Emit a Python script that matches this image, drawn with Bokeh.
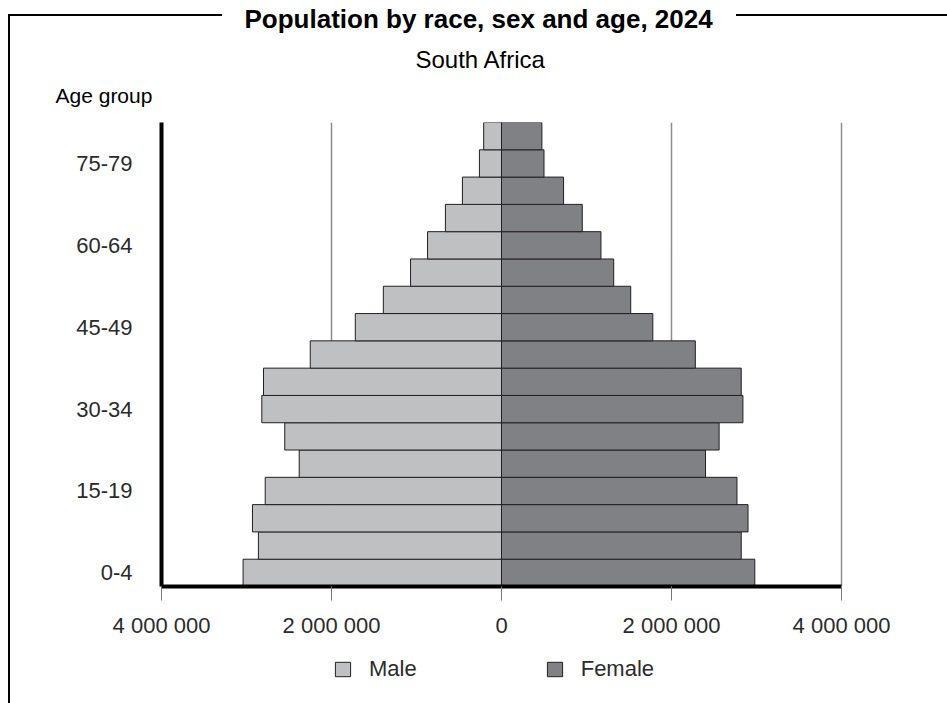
from bokeh.plotting import figure
from bokeh.layouts import column
from bokeh.models import (ColumnDataSource, FixedTicker, CustomJSTickFormatter, Title,
                          Legend, LegendItem, Range1d)
from bokeh.embed import file_html
from bokeh.resources import INLINE

# ---- data ----
ages = ["0-4", "5-9", "10-14", "15-19", "20-24", "25-29", "30-34", "35-39", "40-44",
        "45-49", "50-54", "55-59", "60-64", "65-69", "70-74", "75-79", "80+"]
male = [3040000, 2860000, 2930000, 2780000, 2380000, 2550000, 2820000, 2800000, 2250000,
        1720000, 1390000, 1070000, 870000, 660000, 460000, 260000, 210000]
female = [2980000, 2820000, 2900000, 2770000, 2400000, 2560000, 2840000, 2820000, 2280000,
          1780000, 1520000, 1320000, 1170000, 950000, 730000, 500000, 475000]
x_ticks = [-4000000, -2000000, 0, 2000000, 4000000]
series = ["Male", "Female"]
title_text = "Population by race, sex and age, 2024"
subtitle_text = "South Africa"
y_title_text = "Age group"

# ---- styles ----
FONT = "Liberation Sans"
TXT = "#2b2b2b"
COLORS = ["#bfc0c2", "#808184"]
EDGE = "#231f20"

W = 947
H1, H2 = 653, 50
X_LO, X_HI = x_ticks[0], x_ticks[-1]
X_PAD = 35000  # a few pixels so the outer grid line stays inside the frame

p = figure(width=W, height=H1, output_backend="svg", toolbar_location=None,
           x_range=Range1d(X_LO, X_HI + X_PAD), y_range=Range1d(-0.5, len(ages) - 0.5),
           min_border_left=161, min_border_right=103, min_border_top=121,
           min_border_bottom=67)
p.title.visible = False
p.outline_line_color = None
p.background_fill_color = "white"
p.border_fill_alpha = 0

src = ColumnDataSource(dict(
    y=list(range(len(ages))),
    age=ages,
    male_left=[-v for v in male],
    female=female,
    zero=[0] * len(ages),
))

r_m = p.hbar(y="y", left="male_left", right="zero", height=1.0, source=src,
             fill_color=COLORS[0], line_color=EDGE, line_width=1)
r_f = p.hbar(y="y", left="zero", right="female", height=1.0, source=src,
             fill_color=COLORS[1], line_color=EDGE, line_width=1)

# x axis
xa = p.xaxis[0]
xa.ticker = FixedTicker(ticks=x_ticks)
xa.bounds = (X_LO, X_HI)
xa.formatter = CustomJSTickFormatter(
    code="return Math.abs(tick).toFixed(0).replace(/\\B(?=(\\d{3})+(?!\\d))/g, ' ');")
xa.axis_line_width = 4
xa.axis_line_color = "black"
xa.major_tick_in = 0
xa.major_tick_out = 14
xa.major_tick_line_color = "#777777"
xa.major_tick_line_width = 1
xa.minor_tick_line_color = None
xa.major_label_text_font = FONT
xa.major_label_text_font_size = "22px"
xa.major_label_text_color = TXT
xa.major_label_standoff = 12

# y axis
ya = p.yaxis[0]
ya.ticker = FixedTicker(ticks=list(range(0, len(ages), 3)))
ya.major_label_overrides = {i: ages[i] for i in range(0, len(ages), 3)}
ya.axis_line_width = 4
ya.axis_line_color = "black"
ya.major_tick_in = 0
ya.major_tick_out = 0
ya.minor_tick_line_color = None
ya.major_label_text_font = FONT
ya.major_label_text_font_size = "22px"
ya.major_label_text_color = TXT
ya.major_label_standoff = 29

p.xgrid.ticker = FixedTicker(ticks=x_ticks)
p.xgrid.grid_line_color = "#8c8c8c"
p.xgrid.grid_line_width = 1.5
p.ygrid.visible = False

# titles (first added = closest to the frame); first one is an empty spacer
p.add_layout(Title(text=" ", align="left", standoff=2.8, text_font=FONT,
                   text_font_size="10px"), "above")
p.add_layout(Title(text=y_title_text, align="left", offset=-106, standoff=0,
                   text_font=FONT, text_font_size="21px", text_font_style="normal",
                   text_color="black"), "above")
p.add_layout(Title(text=subtitle_text, align="left", offset=254, standoff=17.6,
                   text_font=FONT, text_font_size="24px", text_font_style="normal",
                   text_color="black"), "above")
p.add_layout(Title(text=title_text, align="left", offset=83, standoff=1.6,
                   text_font=FONT, text_font_size="26px", text_font_style="bold",
                   text_color="black"), "above")

# ---- legend strip (second figure, same data, bars kept outside its range) ----
p2 = figure(width=W, height=H2, output_backend="svg", toolbar_location=None,
            x_range=Range1d(X_LO, X_HI), y_range=Range1d(100, 101),
            x_axis_type=None, y_axis_type=None, min_border=0)
p2.title.visible = False
p2.outline_line_color = None
p2.background_fill_alpha = 0
p2.border_fill_alpha = 0
p2.grid.visible = False
m2 = p2.hbar(y="y", left="male_left", right="zero", height=1.0, source=src,
             fill_color=COLORS[0], line_color=EDGE, line_width=1)
f2 = p2.hbar(y="y", left="zero", right="female", height=1.0, source=src,
             fill_color=COLORS[1], line_color=EDGE, line_width=1)
legend = Legend(items=[LegendItem(label=series[0], renderers=[m2]),
                       LegendItem(label=series[1], renderers=[f2])],
                orientation="horizontal", location=(172, 21),
                glyph_width=19, glyph_height=18, label_standoff=17, spacing=128,
                padding=0, margin=0, border_line_color=None, background_fill_alpha=0,
                label_text_font=FONT, label_text_font_size="22px", label_text_color=TXT)
p2.add_layout(legend, "center")

layout = column(p, p2, spacing=0, styles={
    "background-color": "white",
    "background-image": "linear-gradient(#000,#000), linear-gradient(#000,#000), linear-gradient(#000,#000)",
    "background-size": "2px 800px, 214px 2px, 220px 2px",
    "background-position": "8px 14px, 8px 14px, 736px 14px",
    "background-repeat": "no-repeat",
})

open("out.html", "w").write(file_html(layout, INLINE))
